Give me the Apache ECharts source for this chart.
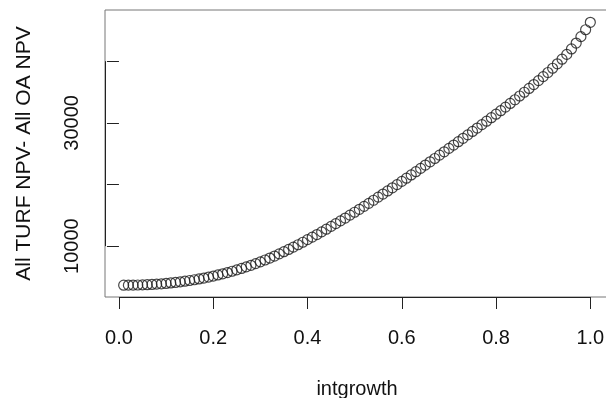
<!DOCTYPE html>
<html>
<head>
<meta charset="utf-8">
<script src="https://cdn.jsdelivr.net/npm/echarts@6/dist/echarts.min.js"></script>
<style>
  html, body { margin: 0; padding: 0; background: #fff; }
  #chart { width: 606px; height: 398px; }
</style>
</head>
<body>
<div id="chart"></div>
<script>
// Interest growth rate (x) and TURF minus open-access NPV (y)
const growth = [
  0.01, 0.02, 0.03, 0.04, 0.05, 0.06, 0.07, 0.08, 0.09, 0.10,
  0.11, 0.12, 0.13, 0.14, 0.15, 0.16, 0.17, 0.18, 0.19, 0.20,
  0.21, 0.22, 0.23, 0.24, 0.25, 0.26, 0.27, 0.28, 0.29, 0.30,
  0.31, 0.32, 0.33, 0.34, 0.35, 0.36, 0.37, 0.38, 0.39, 0.40,
  0.41, 0.42, 0.43, 0.44, 0.45, 0.46, 0.47, 0.48, 0.49, 0.50,
  0.51, 0.52, 0.53, 0.54, 0.55, 0.56, 0.57, 0.58, 0.59, 0.60,
  0.61, 0.62, 0.63, 0.64, 0.65, 0.66, 0.67, 0.68, 0.69, 0.70,
  0.71, 0.72, 0.73, 0.74, 0.75, 0.76, 0.77, 0.78, 0.79, 0.80,
  0.81, 0.82, 0.83, 0.84, 0.85, 0.86, 0.87, 0.88, 0.89, 0.90,
  0.91, 0.92, 0.93, 0.94, 0.95, 0.96, 0.97, 0.98, 0.99, 1.00
];
const npvDiff = [
  3664, 3672, 3684, 3700, 3720, 3750, 3788, 3834, 3888, 3950,
  4026, 4112, 4208, 4314, 4430, 4550, 4682, 4826, 4982, 5150,
  5326, 5514, 5714, 5926, 6150, 6386, 6634, 6894, 7166, 7450,
  7750, 8065, 8395, 8740, 9100, 9460, 9835, 10225, 10630, 11050,
  11460, 11880, 12310, 12750, 13200, 13645, 14097, 14557, 15025, 15500,
  15970, 16450, 16940, 17440, 17950, 18450, 18955, 19465, 19980, 20500,
  21020, 21545, 22075, 22610, 23150, 23680, 24215, 24755, 25300, 25850,
  26390, 26935, 27485, 28040, 28600, 29150, 29705, 30265, 30830, 31400,
  31970, 32550, 33140, 33740, 34350, 34960, 35580, 36210, 36850, 37500,
  38160, 38850, 39570, 40320, 41100, 41980, 42940, 43980, 45100, 46300
];
const xTicks = [0, 0.2, 0.4, 0.6, 0.8, 1.0];
const yTicks = [10000, 20000, 30000, 40000];
const yLabelTicks = [10000, 30000];

// Plot region padded 4% beyond the data, like R's default axis style
const xMin = -0.0296, xMax = 1.0396;
const yMin = 1750, yMax = 48300;

const FONT = '"Liberation Sans", Arial, Helvetica, sans-serif';
const TEXT = '#111';
const INK = '#222';

const chart = echarts.init(document.getElementById('chart'), null, { renderer: 'canvas' });

chart.setOption({
  animation: false,
  backgroundColor: '#fff',
  grid: {
    left: 105, top: 10, width: 504, height: 287,
    outerBoundsMode: 'none', containLabel: false,
    show: true, borderColor: '#777', borderWidth: 1, backgroundColor: 'transparent'
  },
  xAxis: {
    type: 'value', min: xMin, max: xMax,
    name: 'intgrowth', nameLocation: 'middle', nameGap: 82,
    nameTextStyle: { fontFamily: FONT, fontSize: 20, color: TEXT },
    axisLine: { show: false },
    splitLine: { show: false },
    axisTick: { show: true, customValues: xTicks, length: 12, lineStyle: { color: INK, width: 1 } },
    axisLabel: {
      customValues: xTicks, margin: 31,
      fontFamily: FONT, fontSize: 20, color: TEXT,
      formatter: v => v.toFixed(1)
    }
  },
  yAxis: {
    type: 'value', min: yMin, max: yMax,
    name: 'All TURF NPV- All OA NPV', nameLocation: 'middle', nameGap: 70,
    nameTextStyle: { fontFamily: FONT, fontSize: 21, color: TEXT },
    axisLine: { show: false },
    splitLine: { show: false },
    axisTick: { show: true, customValues: yTicks, length: 12, lineStyle: { color: INK, width: 1 } },
    axisLabel: {
      customValues: yLabelTicks, rotate: 90, margin: 23,
      fontFamily: FONT, fontSize: 20, color: TEXT,
      formatter: v => String(v)
    }
  },
  series: [{
    type: 'scatter',
    data: growth.map((g, i) => [g, npvDiff[i]]),
    symbol: 'circle',
    symbolSize: 10,
    itemStyle: { color: 'rgba(0,0,0,0)', borderColor: '#1a1a1a', borderWidth: 1.2 },
    emphasis: { disabled: true },
    markLine: {
      silent: true,
      symbol: 'none',
      label: { show: false },
      lineStyle: { color: INK, width: 1, type: 'solid' },
      data: [
        [{ coord: [xMin, yTicks[0]] }, { coord: [xMin, yTicks[yTicks.length - 1]] }],
        [{ coord: [xTicks[0], yMin] }, { coord: [xTicks[xTicks.length - 1], yMin] }]
      ]
    }
  }]
});
</script>
</body>
</html>
